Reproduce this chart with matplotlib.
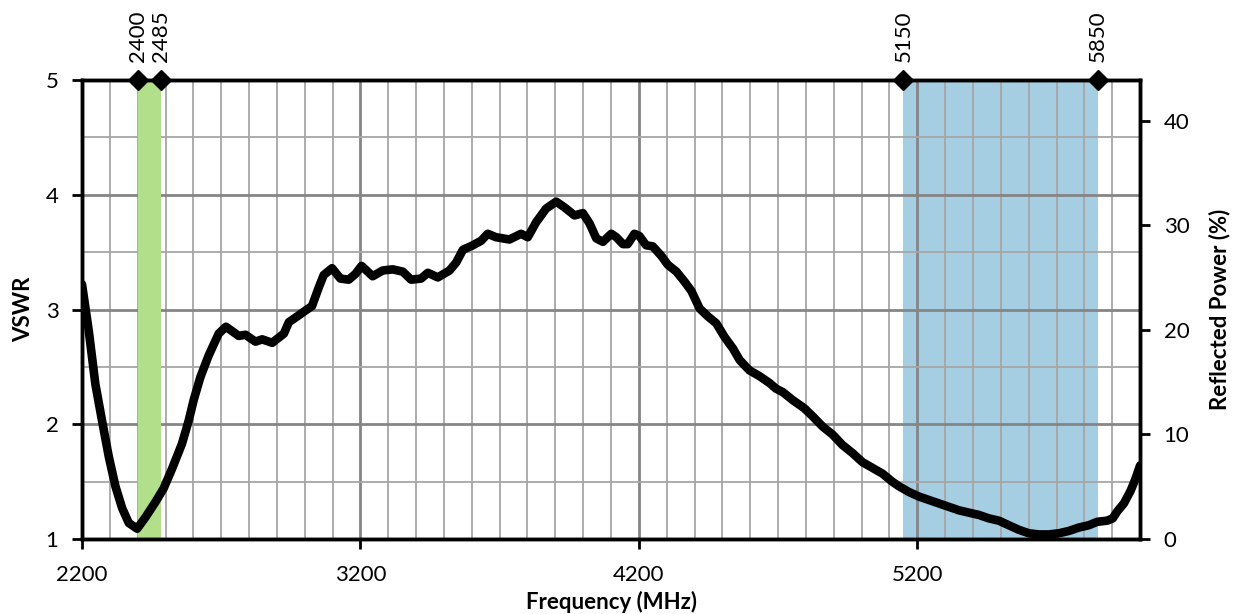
import numpy as np
import matplotlib
matplotlib.use('Agg')
import matplotlib.pyplot as plt
from matplotlib.ticker import MultipleLocator

plt.rcParams['font.family'] = ['Lato', 'DejaVu Sans']

# measured VSWR curve (MHz, VSWR)
freq = [2200, 2224, 2248, 2272, 2296, 2320, 2344, 2368, 2398, 2428, 2463, 2493,
        2523, 2559, 2583, 2601, 2625, 2655, 2691, 2717, 2763, 2787, 2823, 2847,
        2883, 2925, 2943, 2967, 3002, 3026, 3050, 3068, 3098, 3128, 3158, 3182,
        3204, 3244, 3280, 3316, 3352, 3382, 3418, 3442, 3478, 3520, 3544, 3568,
        3604, 3634, 3657, 3687, 3735, 3777, 3801, 3831, 3867, 3903, 3933, 3969,
        3999, 4023, 4047, 4071, 4101, 4119, 4143, 4160, 4184, 4202, 4226, 4250,
        4280, 4304, 4335, 4365, 4389, 4418, 4448, 4478, 4508, 4538, 4562, 4597,
        4633, 4669, 4693, 4717, 4753, 4794, 4824, 4860, 4896, 4931, 4967, 5003,
        5039, 5075, 5110, 5134, 5170, 5206, 5242, 5278, 5314, 5350, 5385, 5421,
        5457, 5493, 5529, 5565, 5601, 5637, 5672, 5708, 5744, 5780, 5816, 5846,
        5882, 5902, 5918, 5942, 5966, 5983, 6000]
vswr = [3.22, 2.82, 2.35, 2.03, 1.72, 1.46, 1.27, 1.14, 1.09, 1.19, 1.32, 1.44,
        1.61, 1.83, 2.03, 2.21, 2.41, 2.60, 2.79, 2.85, 2.77, 2.78, 2.72, 2.74,
        2.71, 2.79, 2.89, 2.93, 2.99, 3.03, 3.19, 3.30, 3.36, 3.27, 3.26, 3.31,
        3.38, 3.29, 3.34, 3.35, 3.33, 3.26, 3.27, 3.32, 3.28, 3.34, 3.41, 3.52,
        3.56, 3.60, 3.66, 3.63, 3.61, 3.66, 3.63, 3.76, 3.88, 3.94, 3.89, 3.82,
        3.84, 3.75, 3.62, 3.59, 3.66, 3.63, 3.57, 3.57, 3.66, 3.64, 3.56, 3.55,
        3.47, 3.39, 3.33, 3.24, 3.16, 3.01, 2.94, 2.88, 2.76, 2.66, 2.56, 2.47,
        2.42, 2.36, 2.31, 2.28, 2.21, 2.14, 2.07, 1.98, 1.91, 1.82, 1.75, 1.67,
        1.62, 1.57, 1.50, 1.46, 1.41, 1.37, 1.34, 1.31, 1.28, 1.25, 1.23, 1.21,
        1.18, 1.16, 1.12, 1.08, 1.05, 1.04, 1.04, 1.05, 1.07, 1.10, 1.12, 1.15,
        1.16, 1.18, 1.24, 1.31, 1.42, 1.52, 1.64]

# frequency bands
band_24 = [2400, 2485]
band_5 = [5150, 5850]
band_marks = [2400, 2485, 5150, 5850]

fig = plt.figure(figsize=(12.35, 6.14), dpi=100)
ax = fig.add_axes([0.0664, 0.1221, 0.8567, 0.7476])

ax.set_xlim(2200, 6000)
ax.set_ylim(1, 5)

ax.axvspan(band_24[0], band_24[1], color='#b2df8a', zorder=1.5, lw=0)
ax.axvspan(band_5[0], band_5[1], color='#a6cee3', zorder=0.5, lw=0)

ax.set_xticks(np.arange(2200, 6000, 1000))
ax.xaxis.set_minor_locator(MultipleLocator(100))
ax.set_yticks([1, 2, 3, 4, 5])
ax.yaxis.set_minor_locator(MultipleLocator(0.5))
ax.grid(which='major', color='#858585', lw=2, zorder=1)
ax.grid(which='minor', color='#a6a6a6', lw=1.3, zorder=1)
ax.set_axisbelow(True)

ax.plot(freq, vswr, color='black', lw=6.2, solid_capstyle='round', zorder=3)

for spine in ax.spines.values():
    spine.set_linewidth(2.5)
    spine.set_zorder(4)

ax.tick_params(which='major', direction='out', length=7, width=2, labelsize=16)
ax.tick_params(which='minor', length=0)
ax.tick_params(axis='x', pad=12)
ax.tick_params(axis='y', pad=10)
ax.set_xlabel('Frequency (MHz)', fontsize=16, fontweight='bold', labelpad=4)
ax.set_ylabel('VSWR', fontsize=16, fontweight='bold', labelpad=8)

ax2 = ax.twinx()
ax2.set_ylim(0, 43.9)
ax2.set_yticks([0, 10, 20, 30, 40])
ax2.tick_params(direction='out', length=7, width=2, labelsize=16, pad=10)
for spine in ax2.spines.values():
    spine.set_linewidth(2.5)
ax2.set_ylabel('Reflected Power (%)', fontsize=16, fontweight='bold', labelpad=14)

ax.plot(band_marks, [5] * len(band_marks), linestyle='none', marker='D',
        markersize=10, color='black', clip_on=False, zorder=5)
for f in band_marks:
    ax.annotate(str(f), xy=(f, 5), xytext=(0, 13), textcoords='offset points',
                rotation=90, ha='center', va='bottom', fontsize=16)

fig.savefig('out.png', dpi=100)
